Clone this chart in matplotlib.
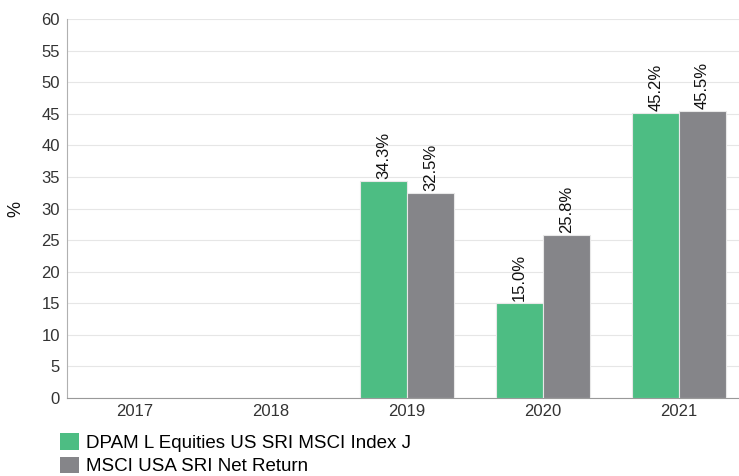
import matplotlib
matplotlib.use("Agg")
import matplotlib.pyplot as plt
import numpy as np
from matplotlib.patches import Patch

plt.rcParams['font.family'] = ['Liberation Sans', 'DejaVu Sans']

years = ["2017", "2018", "2019", "2020", "2021"]
fund = [np.nan, np.nan, 34.3, 15.0, 45.2]
bench = [np.nan, np.nan, 32.5, 25.8, 45.5]
series_names = ["DPAM L Equities US SRI MSCI Index J", "MSCI USA SRI Net Return"]
colors = ["#4dbd83", "#858589"]
yticks = list(range(0, 61, 5))

fig = plt.figure(figsize=(7.39, 4.76), dpi=100)
ax = fig.add_axes([0.0907, 0.1639, 0.9093, 0.796])

x = np.arange(len(years))
w = 0.345
for vals, off, c in [(fund, -w/2, colors[0]), (bench, w/2, colors[1])]:
    for xi, v in zip(x, vals):
        if np.isnan(v):
            continue
        ax.bar(xi + off, v, width=w, color=c, edgecolor="#e8e8e8", linewidth=0.8, zorder=3)
        ax.text(xi + off, v + 0.3, f"{v:.1f}%", rotation=90, ha="center", va="bottom",
                fontsize=12, color="#111111", zorder=4)

ax.set_xlim(-0.5, 4.44)
ax.set_ylim(0, 60)
ax.set_yticks(yticks)
ax.set_xticks(x)
ax.set_xticklabels(years)
ax.tick_params(axis="both", length=0, labelsize=12, colors="#333333")
ax.tick_params(axis="y", pad=5)
ax.tick_params(axis="x", pad=4)
ax.yaxis.grid(True, color="#e6e6e6", linewidth=0.8, zorder=0)
ax.set_axisbelow(True)
for s in ["top", "right"]:
    ax.spines[s].set_visible(False)
ax.spines["left"].set_color("#b0b0b0")
ax.spines["bottom"].set_color("#999999")
ax.set_ylabel("%", fontsize=13, color="#111111", labelpad=12)

handles = [Patch(facecolor=colors[0]), Patch(facecolor=colors[1])]
fig.legend(handles, series_names, loc="upper left", bbox_to_anchor=(0.081, 0.09),
           frameon=False, fontsize=13.5, handlelength=1.0, handleheight=1.0,
           handletextpad=0.4, labelspacing=0.25, borderaxespad=0, borderpad=0)

fig.savefig("out.png", dpi=100)
